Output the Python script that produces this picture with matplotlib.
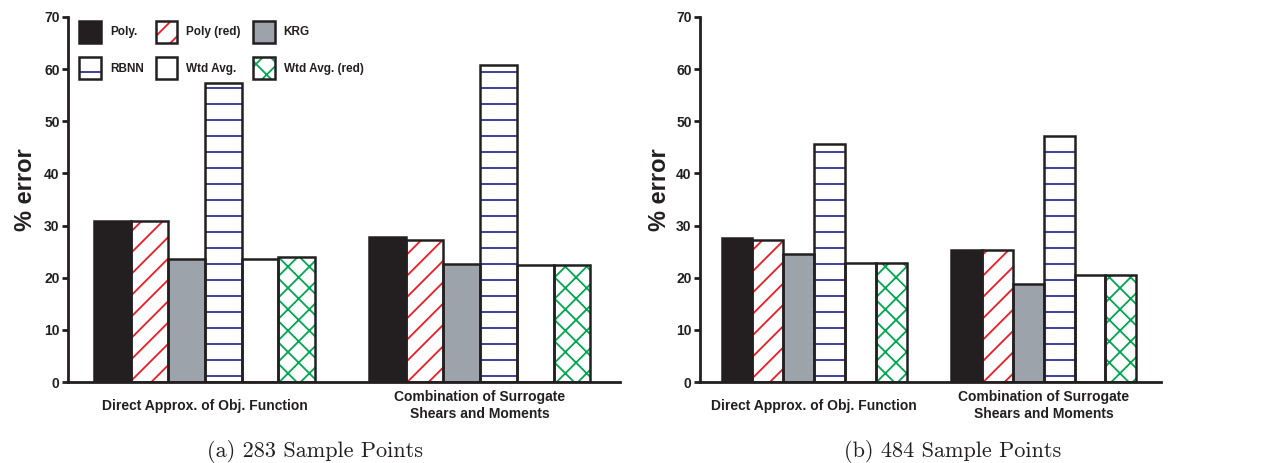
import matplotlib
matplotlib.use("Agg")
import matplotlib.pyplot as plt
from matplotlib import font_manager
import numpy as np

# ---------------- data ----------------
categories = ["Direct Approx. of Obj. Function", "Combination of Surrogate\nShears and Moments"]
series = ["Poly.", "Poly (red)", "KRG", "RBNN", "Wtd Avg.", "Wtd Avg. (red)"]
vals_283 = [[30.9, 27.9], [30.8, 27.3], [23.5, 22.7], [57.3, 60.7], [23.5, 22.5], [24.0, 22.4]]
vals_484 = [[27.7, 25.4], [27.3, 25.3], [24.5, 18.8], [45.7, 47.2], [22.9, 20.5], [22.8, 20.6]]
captions = ["(a) 283 Sample Points", "(b) 484 Sample Points"]
yticks = [0, 10, 20, 30, 40, 50, 60, 70]

# styles
BLACK = "#231f20"
faces = [BLACK, "white", "#9ca3aa", "white", "white", "white"]
hatches = [None, "///", None, "--", None, "xxx"]
hatch_cols = [BLACK, "#ed1c24", "#9ca3aa", "#2e3192", "white", "#00a651"]

def has_font(name):
    try:
        font_manager.findfont(font_manager.FontProperties(family=name), fallback_to_default=False)
        return True
    except Exception:
        return False

narrow = "Liberation Sans Narrow" if has_font("Liberation Sans Narrow") else "Liberation Sans"
serif = "cmr10" if has_font("cmr10") else "DejaVu Serif"

DPI = 192
S = 100.0 / DPI  # point-size scale so pixel sizes stay as designed at 100 dpi

plt.rcParams["hatch.linewidth"] = 1.3 * S
plt.rcParams["font.family"] = ["Liberation Sans", "DejaVu Sans"]

fig = plt.figure(figsize=(1262 / DPI, 463 / DPI), dpi=DPI)

axes_pos = [[68 / 1262, 81 / 463, 552 / 1262, 365 / 463],
            [700 / 1262, 81 / 463, 461 / 1262, 365 / 463]]
label_x = [-43 / 552, -40 / 461]
cap_x = [315 / 1262, 953 / 1262]

centers = np.array([0.0, 7.45])

for p, vals in enumerate([vals_283, vals_484]):
    ax = fig.add_axes(axes_pos[p])
    handles = []
    for i, name in enumerate(series):
        x = centers + (i - 2.5) * 1.0
        b1 = ax.bar(x, vals[i], width=1.0, color=faces[i], hatch=hatches[i],
                    edgecolor=hatch_cols[i], linewidth=0, zorder=2)
        b2 = ax.bar(x, vals[i], width=1.0, fill=False, edgecolor=BLACK,
                    linewidth=1.8 * S, zorder=3)
        handles.append((b1.patches[0], b2.patches[0]))
    ax.set_xlim(-3.7, 11.25)
    ax.set_ylim(0, 70)
    ax.set_yticks(yticks)
    ax.set_yticklabels([str(t) for t in yticks], family=[narrow, "DejaVu Sans"],
                       fontweight="bold", fontsize=10 * S, color=BLACK)
    ax.set_xticks(centers)
    ax.set_xticklabels(categories, family=[narrow, "DejaVu Sans"], fontweight="bold",
                       fontsize=10 * S, color=BLACK, va="center", linespacing=1.25)
    ax.tick_params(axis="x", length=0, pad=17 * S)
    ax.tick_params(axis="y", length=4 * S, width=2 * S, pad=2 * S, color=BLACK)
    for s in ["top", "right"]:
        ax.spines[s].set_visible(False)
    for s in ["left", "bottom"]:
        ax.spines[s].set_linewidth(2 * S)
        ax.spines[s].set_color(BLACK)
    ax.set_ylabel("% error", fontsize=17 * S, fontweight="bold", color=BLACK, va="center")
    ax.yaxis.set_label_coords(label_x[p], 0.527)
    fig.text(cap_x[p], 0.024, captions[p], family=serif, fontsize=16 * S, ha="center",
             va="center", color=BLACK)
    if p == 0:
        order = [0, 3, 1, 4, 2, 5]
        leg = ax.legend([handles[k] for k in order], [series[k] for k in order],
                        ncol=3, loc="upper left", bbox_to_anchor=(0.02, 0.99),
                        frameon=False, borderpad=0, borderaxespad=0,
                        handlelength=1.86, handleheight=2.49, labelspacing=1.23,
                        handletextpad=0.76, columnspacing=1.0,
                        prop={"weight": "bold", "size": 8.5 * S})
        for t in leg.get_texts():
            t.set_color(BLACK)

fig.savefig("out.png", dpi=DPI)
